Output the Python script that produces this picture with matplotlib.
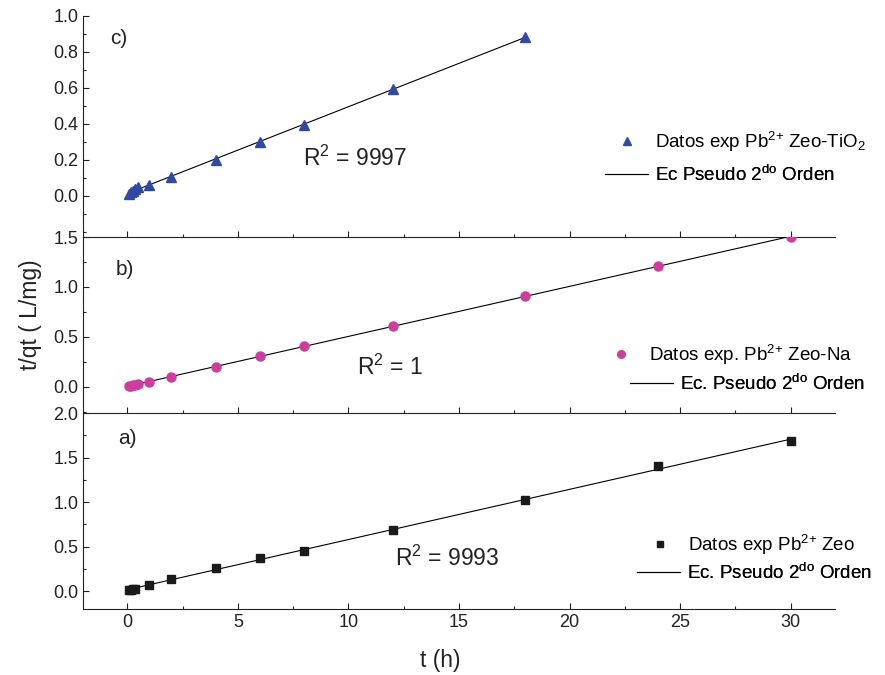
import matplotlib
matplotlib.use('Agg')
import matplotlib.pyplot as plt
from matplotlib.ticker import MultipleLocator
from matplotlib.lines import Line2D
import numpy as np

plt.rcParams['font.family'] = ['Liberation Sans', 'DejaVu Sans']
plt.rcParams['mathtext.fontset'] = 'custom'
plt.rcParams['mathtext.rm'] = 'Liberation Sans'
plt.rcParams['mathtext.default'] = 'regular'

# c) Zeo-TiO2
t_c = [0.083, 0.167, 0.25, 0.333, 0.5, 1, 2, 4, 6, 8, 12, 18]
y_c = [0.012, 0.018, 0.028, 0.035, 0.046, 0.057, 0.106, 0.200, 0.297, 0.396, 0.592, 0.885]
# b) Zeo-Na
t_b = [0.083, 0.167, 0.25, 0.333, 0.5, 1, 2, 4, 6, 8, 12, 18, 24, 30]
y_b = [0.004, 0.008, 0.013, 0.017, 0.025, 0.05, 0.10, 0.201, 0.302, 0.409, 0.604, 0.912, 1.207, 1.50]
# a) Zeo
t_a = [0.083, 0.167, 0.25, 0.333, 1, 2, 4, 6, 8, 12, 18, 24, 30]
y_a = [0.008, 0.015, 0.022, 0.03, 0.075, 0.142, 0.263, 0.368, 0.456, 0.685, 1.022, 1.40, 1.686]

labels_data = ['Datos exp Pb$^{2{+}}$ Zeo-TiO$_2$', 'Datos exp. Pb$^{2{+}}$ Zeo-Na', 'Datos exp Pb$^{2{+}}$ Zeo']
labels_fit = ['Ec Pseudo 2$^{do}$ Orden', 'Ec. Pseudo 2$^{do}$ Orden', 'Ec. Pseudo 2$^{do}$ Orden']
r2_text = ['R$^2$ = 9997', 'R$^2$ = 1', 'R$^2$ = 9993']
panel_names = ['c)', 'b)', 'a)']

W, H = 885, 675
fig = plt.figure(figsize=(8.85, 6.75), dpi=100)


def px_axes(top, bottom):
    return fig.add_axes([83 / W, 1 - bottom / H, (835 - 83) / W, (bottom - top) / H])


def add_entry(ax, handle, label, x_left, y_mid):
    leg = ax.legend([handle], [label], loc='center left',
                    bbox_to_anchor=(x_left / W, 1 - y_mid / H),
                    bbox_transform=fig.transFigure, frameon=False,
                    borderpad=0, borderaxespad=0, handlelength=2.3,
                    handletextpad=0.35, fontsize=13.5)
    ax.add_artist(leg)


axes = [px_axes(16, 237), px_axes(237, 413), px_axes(413, 609)]
series = [(t_c, y_c), (t_b, y_b), (t_a, y_a)]
styles = [dict(marker='^', color='#2f4aa0', ms=7),
          dict(marker='o', color='#cc3d9e', ms=6.5),
          dict(marker='s', color='#1a1a1a', ms=6)]
ylims = [(-0.23, 1.0), (-0.265, 1.5), (-0.2, 2.0)]
ymaj = [0.2, 0.5, 0.5]
label_pos = [(-0.77, 0.872), (-0.54, 1.17), (-0.4, 1.71)]
r2_pos = [(7.96, 0.166), (10.4, 0.118), (12.1, 0.28)]
leg_pos = [((605, 142), (605, 175)), ((599, 355), (630, 384)), ((638, 545), (637, 573))]

for i, ax in enumerate(axes):
    t, y = series[i]
    st = styles[i]
    k, b = np.polyfit(t, y, 1)
    tt = np.array([t[0], t[-1]])
    ax.plot(tt, k * tt + b, color='black', lw=0.8, zorder=2)
    ax.plot(t, y, linestyle='none', marker=st['marker'], color=st['color'],
            ms=st['ms'], mec=st['color'], zorder=3)

    ax.set_xlim(-2, 32)
    ax.set_ylim(*ylims[i])
    ax.xaxis.set_major_locator(MultipleLocator(5))
    ax.xaxis.set_minor_locator(MultipleLocator(2.5))
    ax.set_yticks(np.arange(0, ylims[i][1] + 1e-6, ymaj[i]))
    ax.yaxis.set_minor_locator(MultipleLocator(ymaj[i] / 2))
    ax.spines['top'].set_visible(False)
    ax.spines['right'].set_visible(False)
    for s in ['left', 'bottom']:
        ax.spines[s].set_linewidth(0.8)
        ax.spines[s].set_color('#222222')
    ax.tick_params(which='both', direction='in', labelsize=13, colors='#222222', width=0.8)
    ax.tick_params(which='major', length=4)
    ax.tick_params(which='minor', length=2.5)
    ax.yaxis.set_major_formatter(plt.FormatStrFormatter('%.1f'))
    if i < 2:
        ax.tick_params(axis='x', labelbottom=False)
    ax.patch.set_alpha(0)

    ax.text(label_pos[i][0], label_pos[i][1], panel_names[i], fontsize=15,
            ha='left', va='center', color='#222222')
    ax.text(r2_pos[i][0], r2_pos[i][1], r2_text[i], fontsize=16.5,
            ha='left', va='baseline', color='#222222')

    h_data = Line2D([], [], linestyle='none', marker=st['marker'], color=st['color'],
                    ms=st['ms'] - 1)
    h_fit = Line2D([], [], color='black', lw=0.8)
    add_entry(ax, h_data, labels_data[i], *leg_pos[i][0])
    add_entry(ax, h_fit, labels_fit[i], *leg_pos[i][1])

fig.text(30 / W, 1 - 315 / H, 't/qt ( L/mg)', rotation=90, ha='center', va='center',
         fontsize=16.5, color='#222222')
fig.text(440 / W, 1 - 660 / H, 't (h)', ha='center', va='center', fontsize=16.5, color='#222222')

fig.savefig('out.png', dpi=100)
